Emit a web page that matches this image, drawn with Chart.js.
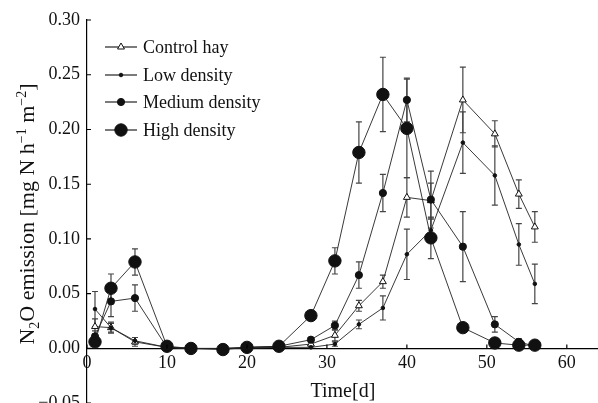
<!DOCTYPE html>
<html>
<head>
<meta charset="utf-8">
<script src="https://cdn.jsdelivr.net/npm/chart.js@4.4.1/dist/chart.umd.min.js"></script>
<style>
html, body { margin: 0; padding: 0; background: #fff; overflow: hidden; }
#wrap { position: relative; width: 606px; height: 421px; }
</style>
</head>
<body>
<div id="wrap"><canvas id="chart"></canvas></div>
<script>
// sampling days
var days = [1, 3, 6, 10, 13, 17, 20, 24, 28, 31, 34, 37, 40, 43, 47, 51, 54, 56];

var controlHay = [0.020, 0.019, 0.006, 0.001, 0.000, 0.000, 0.001, 0.001, 0.004, 0.012, 0.039, 0.061, 0.138, 0.135, 0.227, 0.196, 0.141, 0.111];
var controlErr = [0.007, 0.005, 0.004, 0.001, 0.0005, 0.0005, 0.001, 0.001, 0.002, 0.005, 0.005, 0.006, 0.018, 0.016, 0.030, 0.012, 0.013, 0.014];

var lowDens = [0.036, 0.019, 0.007, 0.001, 0.000, 0.000, 0.000, 0.001, 0.001, 0.004, 0.022, 0.037, 0.086, 0.108, 0.188, 0.158, 0.095, 0.059];
var lowErr = [0.016, 0.004, 0.003, 0.001, 0.0005, 0.0005, 0.0005, 0.001, 0.001, 0.002, 0.004, 0.011, 0.023, 0.010, 0.028, 0.027, 0.019, 0.018];

var medDens = [0.011, 0.043, 0.046, 0.001, 0.000, 0.000, 0.001, 0.002, 0.008, 0.021, 0.067, 0.142, 0.227, 0.136, 0.093, 0.022, 0.006, 0.002];
var medErr = [0.005, 0.014, 0.012, 0.001, 0.0005, 0.0005, 0.001, 0.001, 0.002, 0.004, 0.012, 0.017, 0.020, 0.026, 0.032, 0.007, 0.003, 0.001];

var highDens = [0.006, 0.055, 0.079, 0.002, 0.000, -0.001, 0.001, 0.002, 0.030, 0.080, 0.179, 0.232, 0.201, 0.101, 0.019, 0.005, 0.003, 0.003];
var highErr = [0.003, 0.013, 0.012, 0.001, 0.0005, 0.0005, 0.001, 0.001, 0.003, 0.012, 0.028, 0.034, 0.045, 0.019, 0.003, 0.002, 0.001, 0.001];

var xTicks = [0, 10, 20, 30, 40, 50, 60];
var yTicks = [-0.05, 0, 0.05, 0.10, 0.15, 0.20, 0.25, 0.30];

var SERIF = "'Liberation Serif', 'Times New Roman', serif";

function pts(vals) { return days.map((d, i) => ({x: d, y: vals[i]})); }

function mkSet(label, vals, errs, style, radius, fill, order) {
	return {
		label: label,
		data: pts(vals),
		errs: errs,
		borderColor: '#222',
		borderWidth: 0.9,
		pointStyle: style,
		pointRadius: radius,
		pointBackgroundColor: fill,
		pointBorderColor: '#111',
		pointBorderWidth: 1,
		tension: 0,
		order: order
	};
}

var datasets = [
	mkSet('Control hay', controlHay, controlErr, 'triangle', 4, '#fff', 3),
	mkSet('Low density', lowDens, lowErr, 'circle', 1.8, '#111', 2),
	mkSet('Medium density', medDens, medErr, 'circle', 3.6, '#111', 1),
	mkSet('High density', highDens, highErr, 'circle', 6.2, '#111', 0)
];

// error bars, drawn under the markers
var errorBars = {
	id: 'errorBars',
	beforeDatasetsDraw(chart) {
		var ctx = chart.ctx, xs = chart.scales.x, ys = chart.scales.y;
		ctx.save();
		ctx.strokeStyle = '#444';
		ctx.lineWidth = 1.2;
		chart.data.datasets.forEach(ds => {
			ds.data.forEach((p, i) => {
				var e = ds.errs[i];
				if (e < 0.0015) return;
				var x = xs.getPixelForValue(p.x);
				var y1 = ys.getPixelForValue(p.y + e), y2 = ys.getPixelForValue(p.y - e);
				ctx.beginPath();
				ctx.moveTo(x, y1); ctx.lineTo(x, y2);
				ctx.moveTo(x - 3, y1); ctx.lineTo(x + 3, y1);
				ctx.moveTo(x - 3, y2); ctx.lineTo(x + 3, y2);
				ctx.stroke();
			});
		});
		ctx.restore();
	}
};

// inward tick marks, legend and the y title with sub/superscripts
var decor = {
	id: 'decor',
	afterDraw(chart) {
		var ctx = chart.ctx, xs = chart.scales.x, ys = chart.scales.y;
		var x0 = xs.getPixelForValue(0), y0 = ys.getPixelForValue(0);
		ctx.save();
		ctx.strokeStyle = '#000';
		ctx.lineWidth = 1.2;
		ctx.beginPath();
		yTicks.forEach(v => {
			var y = ys.getPixelForValue(v);
			ctx.moveTo(x0, y); ctx.lineTo(x0 + 4, y);
		});
		xTicks.forEach(v => {
			var x = xs.getPixelForValue(v);
			ctx.moveTo(x, y0); ctx.lineTo(x, y0 - 4);
		});
		ctx.stroke();

		// legend
		var ly = [47, 75, 102, 130];
		chart.data.datasets.forEach((ds, i) => {
			var y = ly[i];
			ctx.strokeStyle = '#222';
			ctx.lineWidth = 1.2;
			ctx.beginPath();
			ctx.moveTo(105, y); ctx.lineTo(137, y);
			ctx.stroke();
			ctx.fillStyle = ds.pointBackgroundColor;
			ctx.strokeStyle = '#111';
			ctx.lineWidth = 1;
			Chart.helpers.drawPoint(ctx, {pointStyle: ds.pointStyle, radius: ds.pointRadius, borderWidth: 1}, 121, y);
			ctx.fillStyle = '#111';
			ctx.font = '18px ' + SERIF;
			ctx.textBaseline = 'middle';
			ctx.textAlign = 'left';
			ctx.fillText(ds.label, 143, y + 1);
		});

		// y title
		var parts = [
			['N', 0], ['2', 1], ['O emission [mg N h', 0], ['\u22121', -1], [' m', 0], ['\u22122', -1], [']', 0]
		];
		var big = '22px ' + SERIF, small = '14px ' + SERIF;
		var total = 0;
		parts.forEach(p => { ctx.font = p[1] ? small : big; total += ctx.measureText(p[0]).width; });
		ctx.translate(34, 214);
		ctx.rotate(-Math.PI / 2);
		ctx.fillStyle = '#111';
		ctx.textBaseline = 'alphabetic';
		var cx = -total / 2;
		parts.forEach(p => {
			ctx.font = p[1] ? small : big;
			var dy = p[1] == 1 ? 5 : (p[1] == -1 ? -8 : 0);
			ctx.fillText(p[0], cx, dy);
			cx += ctx.measureText(p[0]).width;
		});
		ctx.restore();
	}
};

var cfg = {
	type: 'line',
	data: { datasets: datasets },
	options: {
		responsive: true,
		maintainAspectRatio: false,
		animation: false,
		events: [],
		layout: { padding: { left: 0, right: 0, top: 20, bottom: 12.5 } },
		plugins: { legend: { display: false }, tooltip: { enabled: false } },
		scales: {
			x: {
				type: 'linear',
				position: { y: 0 },
				min: 0, max: 64,
				afterBuildTicks: s => { s.ticks = xTicks.map(v => ({value: v})); },
				grid: { display: false, drawTicks: false },
				border: { display: true, color: '#000', width: 1.2 },
				ticks: { color: '#111', font: { family: SERIF, size: 18 }, padding: 4, maxRotation: 0 },
				title: { display: true, text: 'Time[d]', color: '#111', font: { family: SERIF, size: 20 }, padding: { top: 2, bottom: 0 } }
			},
			y: {
				type: 'linear',
				min: -0.05, max: 0.30,
				afterBuildTicks: s => { s.ticks = yTicks.map(v => ({value: v})); },
				afterFit: s => { s.width = 87; },
				grid: { display: false, drawTicks: false },
				border: { display: true, color: '#000', width: 1.2 },
				ticks: {
					color: '#111', font: { family: SERIF, size: 18 }, padding: 7,
					callback: v => (v < 0 ? '\u2212' + Math.abs(v).toFixed(2) : v.toFixed(2))
				}
			}
		}
	},
	plugins: [errorBars, decor]
};

new Chart(document.getElementById('chart'), cfg);
</script>
</body>
</html>
